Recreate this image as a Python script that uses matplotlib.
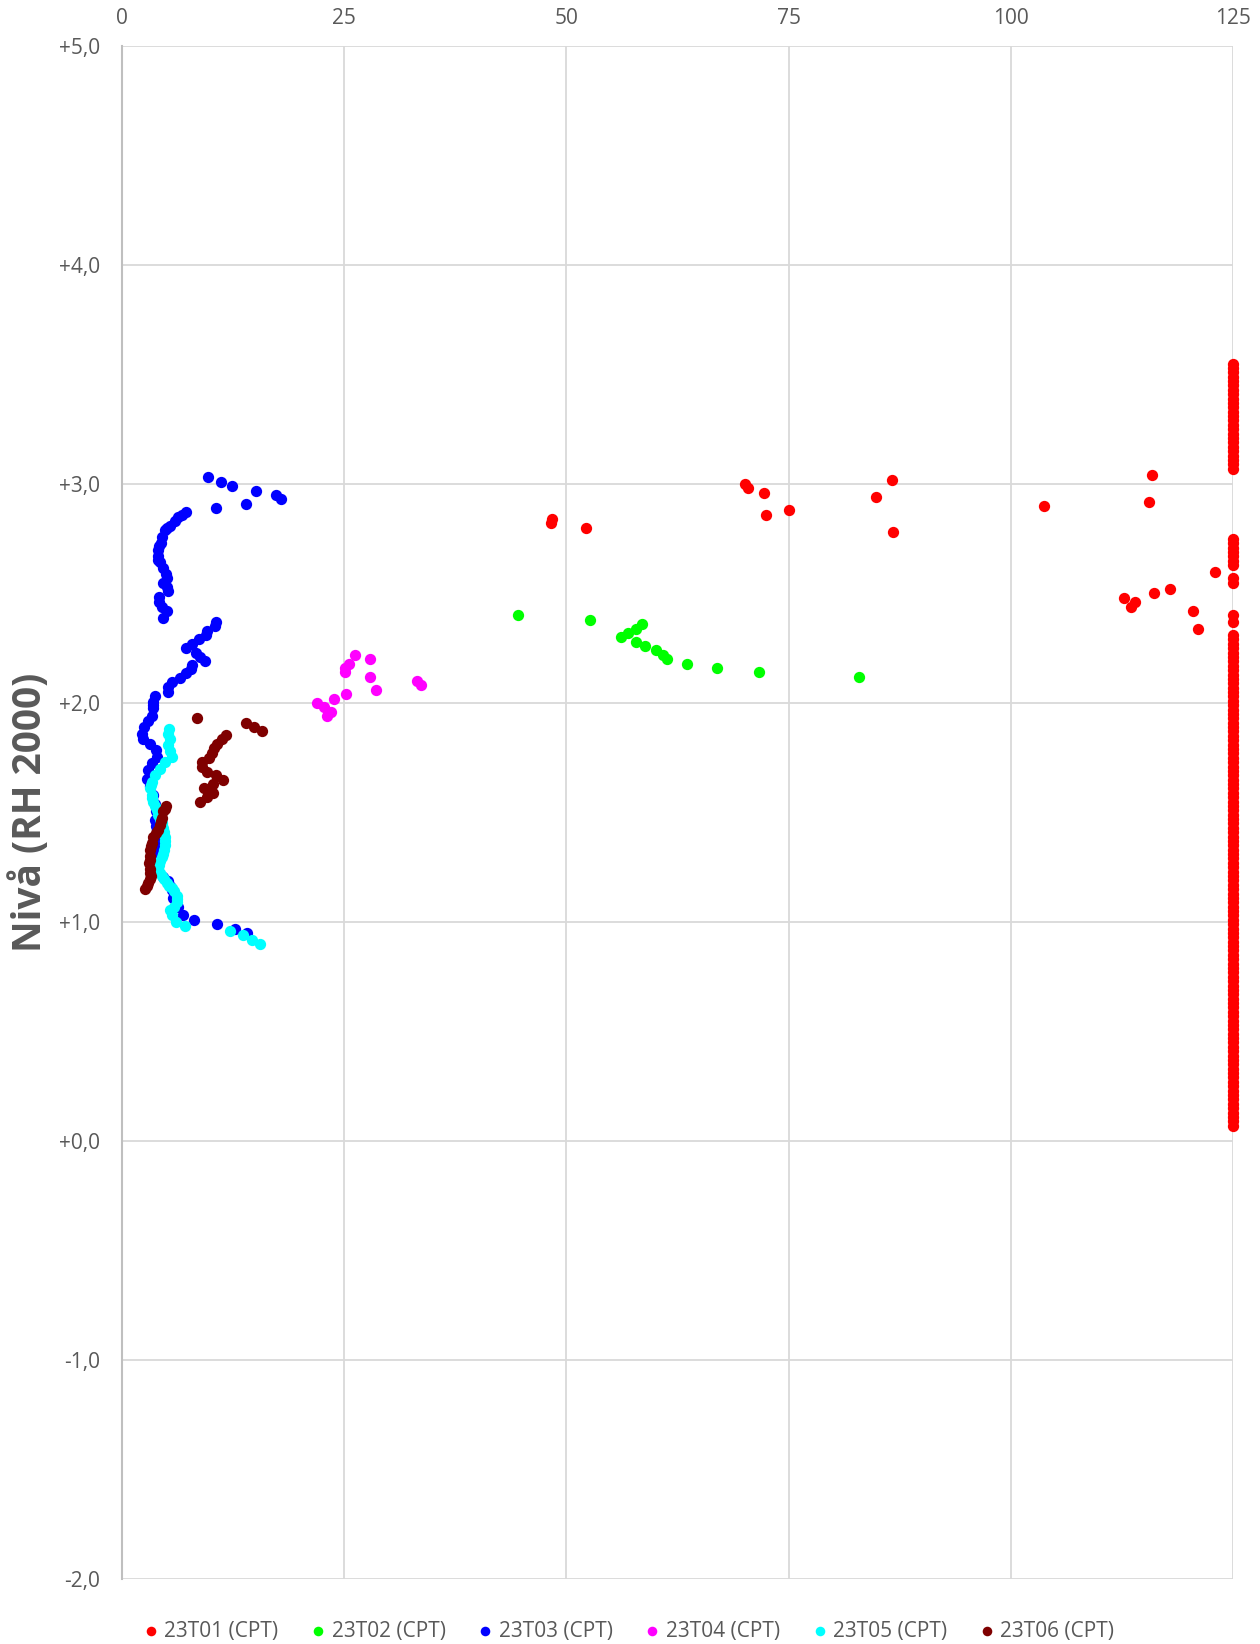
import matplotlib
matplotlib.use('Agg')
import matplotlib.pyplot as plt

plt.rcParams['font.family'] = ['Open Sans', 'DejaVu Sans']

# 23T01 - scattered points, and the ones capped at 125 (axis max)
t01_x = [48.23, 48.38, 52.24, 70.14, 70.38, 72.19, 72.43, 75.0, 84.88, 86.61, 86.74,
         103.69, 115.94, 115.54, 112.72, 113.57, 114.02, 116.10, 117.91, 120.52, 121.08, 123.02]
t01_y = [2.82, 2.84, 2.80, 3.00, 2.98, 2.96, 2.86, 2.88, 2.94, 3.02, 2.78,
         2.90, 3.04, 2.92, 2.48, 2.44, 2.46, 2.50, 2.52, 2.42, 2.34, 2.60]
t01_cap = 125
t01_cap_y = [3.55, 3.53, 3.51, 3.49, 3.47, 3.45, 3.43, 3.41, 3.39, 3.37, 3.35, 3.33, 3.31,
             3.29, 3.27, 3.25, 3.23, 3.21, 3.19, 3.17, 3.15, 3.13, 3.11, 3.09, 3.07,
             2.75, 2.73, 2.71, 2.69, 2.67, 2.65, 2.63,
             2.57, 2.55,
             2.40, 2.37,
             2.31, 2.29, 2.27, 2.25, 2.23, 2.21, 2.19, 2.17, 2.15, 2.13,
             2.11, 2.09, 2.07, 2.05, 2.03, 2.01, 1.99, 1.97, 1.95, 1.93,
             1.91, 1.89, 1.87, 1.85, 1.83, 1.81, 1.79, 1.77, 1.75, 1.73,
             1.71, 1.69, 1.67, 1.65, 1.63, 1.61, 1.59, 1.57, 1.55, 1.53,
             1.51, 1.49, 1.47, 1.45, 1.43, 1.41, 1.39, 1.37, 1.35, 1.33,
             1.31, 1.29, 1.27, 1.25, 1.23, 1.21, 1.19, 1.17, 1.15, 1.13,
             1.11, 1.09, 1.07, 1.05, 1.03, 1.01, 0.99, 0.97, 0.95, 0.93,
             0.91, 0.89, 0.87, 0.85, 0.83, 0.81, 0.79, 0.77, 0.75, 0.73,
             0.71, 0.69, 0.67, 0.65, 0.63, 0.61, 0.59, 0.57, 0.55, 0.53,
             0.51, 0.49, 0.47, 0.45, 0.43, 0.41, 0.39, 0.37, 0.35, 0.33,
             0.31, 0.29, 0.27, 0.25, 0.23, 0.21, 0.19, 0.17, 0.15, 0.13,
             0.11, 0.09, 0.07]

t02_x = [44.59, 52.66, 56.14, 56.90, 57.80, 58.47, 57.80, 58.88, 60.08, 60.83, 61.36,
         63.61, 66.91, 71.71, 82.89]
t02_y = [2.40, 2.38, 2.30, 2.32, 2.34, 2.36, 2.28, 2.26, 2.24, 2.22, 2.20,
         2.18, 2.16, 2.14, 2.12]

t03_x = [9.71, 11.14, 12.38, 15.04, 17.33, 17.89, 10.54, 13.99,
         7.20, 6.70, 6.34, 5.96, 5.40, 5.10, 4.84, 4.54, 4.39, 4.20, 4.09, 4.01, 4.10, 4.28,
         4.65, 4.95, 5.03, 4.65, 5.03, 5.14, 4.20, 4.20, 4.46, 5.03, 4.58,
         10.54, 10.43, 9.60, 9.45, 8.63, 7.91, 7.16, 8.33, 8.78, 9.30, 7.88, 7.73, 7.20,
         6.53, 5.59, 5.14, 5.14, 3.71, 3.52, 3.52, 3.52, 3.34, 2.96, 2.48, 2.21, 2.32,
         3.15, 3.83, 3.90, 3.34, 2.96, 2.78, 3.15, 3.52, 3.71, 3.83, 3.71, 3.80, 3.90,
         3.90, 3.90, 3.90, 3.90, 3.90, 3.90, 3.95, 4.09, 4.65, 5.21, 5.40, 5.59, 5.78, 6.05,
         6.34, 6.90, 8.10, 10.65, 12.71, 14.03]
t03_y = [3.03, 3.01, 2.99, 2.97, 2.95, 2.93, 2.89, 2.91,
         2.87, 2.86, 2.85, 2.83, 2.81, 2.80, 2.79, 2.76, 2.73, 2.715, 2.70, 2.67, 2.655, 2.645,
         2.615, 2.59, 2.57, 2.55, 2.53, 2.51, 2.485, 2.46, 2.44, 2.42, 2.39,
         2.37, 2.35, 2.33, 2.31, 2.29, 2.27, 2.25, 2.23, 2.21, 2.19, 2.175, 2.155, 2.135,
         2.115, 2.095, 2.075, 2.05, 2.03, 2.005, 1.99, 1.975, 1.94, 1.92, 1.89, 1.86, 1.835,
         1.815, 1.785, 1.755, 1.725, 1.695, 1.655, 1.62, 1.58, 1.54, 1.505, 1.465, 1.44, 1.42,
         1.40, 1.375, 1.35, 1.33, 1.31, 1.285, 1.26, 1.235, 1.205, 1.185, 1.165, 1.145, 1.11, 1.09,
         1.07, 1.03, 1.01, 0.99, 0.97, 0.95]

t04_x = [26.22, 27.90, 25.54, 25.09, 25.09, 27.90, 28.58, 33.15, 33.60, 25.20, 23.85,
         21.90, 22.73, 23.48, 23.10]
t04_y = [2.22, 2.20, 2.18, 2.16, 2.14, 2.12, 2.06, 2.10, 2.08, 2.04, 2.02,
         2.00, 1.98, 1.96, 1.94]

t05_x = [5.33, 5.21, 5.40, 5.21, 5.40, 5.59, 4.84, 4.28, 3.71, 3.34, 3.25, 3.15, 3.34, 3.42,
         3.52, 3.70, 3.90, 4.10, 4.28, 4.47, 4.65, 4.75, 4.84, 4.84, 4.84, 4.75, 4.65, 4.45,
         4.28, 4.20, 4.09, 4.25, 4.46, 4.75, 5.03, 5.30, 5.59, 5.90, 6.15, 6.20, 6.22, 5.80,
         5.40, 5.59, 6.08, 7.09, 12.15, 13.65, 14.59, 15.53]
t05_y = [1.88, 1.86, 1.835, 1.81, 1.78, 1.755, 1.73, 1.70, 1.67, 1.64, 1.625, 1.61, 1.58, 1.565,
         1.55, 1.53, 1.51, 1.49, 1.47, 1.45, 1.43, 1.41, 1.39, 1.37, 1.35, 1.33, 1.31, 1.295,
         1.28, 1.26, 1.245, 1.225, 1.21, 1.195, 1.18, 1.165, 1.155, 1.14, 1.12, 1.105, 1.09, 1.07,
         1.055, 1.03, 1.00, 0.98, 0.96, 0.94, 0.92, 0.90]

t06_x = [8.40, 13.95, 14.89, 15.71, 11.70, 11.21, 10.73, 10.39, 10.09, 9.83, 8.97, 8.97,
         9.60, 10.58, 11.33, 10.28, 9.23, 10.28, 9.60, 8.78,
         4.95, 4.80, 4.65, 4.46, 4.37, 4.28, 4.09, 3.80, 3.52, 3.34, 3.25, 3.15, 3.15, 3.10,
         3.08, 3.15, 3.18, 3.22, 3.10, 2.96, 2.80, 2.59]
t06_y = [1.93, 1.91, 1.89, 1.87, 1.855, 1.835, 1.815, 1.795, 1.77, 1.75, 1.73, 1.71,
         1.685, 1.67, 1.65, 1.63, 1.61, 1.59, 1.57, 1.55,
         1.53, 1.515, 1.505, 1.475, 1.46, 1.445, 1.42, 1.405, 1.39, 1.36, 1.345, 1.33, 1.30, 1.285,
         1.27, 1.24, 1.225, 1.21, 1.195, 1.18, 1.165, 1.15]

labels = ['23T01 (CPT)', '23T02 (CPT)', '23T03 (CPT)', '23T04 (CPT)', '23T05 (CPT)', '23T06 (CPT)']
colors = ['#ff0000', '#00ff00', '#0000ff', '#ff00ff', '#00ffff', '#7f0000']

x_ticks = [0, 25, 50, 75, 100, 125]
y_ticks = [-2, -1, 0, 1, 2, 3, 4, 5]
y_ticklabels = ['-2,0', '-1,0', '+0,0', '+1,0', '+2,0', '+3,0', '+4,0', '+5,0']

txt = '#595959'
grid = '#d9d9d9'

fig = plt.figure(figsize=(12.6, 16.44), dpi=100)
ax = fig.add_axes([122 / 1260, 1 - 1579 / 1644, 1111 / 1260, 1533 / 1644])

series = [
    (t01_x + [t01_cap] * len(t01_cap_y), t01_y + t01_cap_y),
    (t02_x, t02_y),
    (t03_x, t03_y),
    (t04_x, t04_y),
    (t05_x, t05_y),
    (t06_x, t06_y),
]
for (xs, ys), lab, c in zip(series, labels, colors):
    ax.scatter(xs, ys, s=66, color=c, label=lab, linewidths=0, zorder=3, clip_on=False)

ax.set_xlim(0, 125)
ax.set_ylim(-2, 5)
ax.set_xticks(x_ticks)
ax.set_yticks(y_ticks)
ax.set_yticklabels(y_ticklabels)
ax.xaxis.tick_top()
ax.tick_params(axis='x', length=0, pad=12, labelsize=15, labelcolor=txt)
ax.tick_params(axis='y', length=0, pad=16, labelsize=15, labelcolor=txt)
ax.grid(True, color=grid, linewidth=1.3, zorder=0)
ax.set_axisbelow(True)
for side in ['top', 'right', 'bottom']:
    ax.spines[side].set_visible(False)
ax.spines['left'].set_color('#bfbfbf')
ax.spines['left'].set_linewidth(1.5)

fig.text(30 / 1260, 1 - 812 / 1644, 'Nivå (RH 2000)', rotation=90, ha='center', va='center',
         fontsize=28, fontweight='bold', color=txt)

fig.legend(loc='center', bbox_to_anchor=(0.5, 13 / 1644), ncol=6, frameon=False,
           fontsize=15, labelcolor=txt, handlelength=0.5, handletextpad=0.4,
           columnspacing=1.65, markerscale=0.85)

fig.savefig('out.png', dpi=100)
